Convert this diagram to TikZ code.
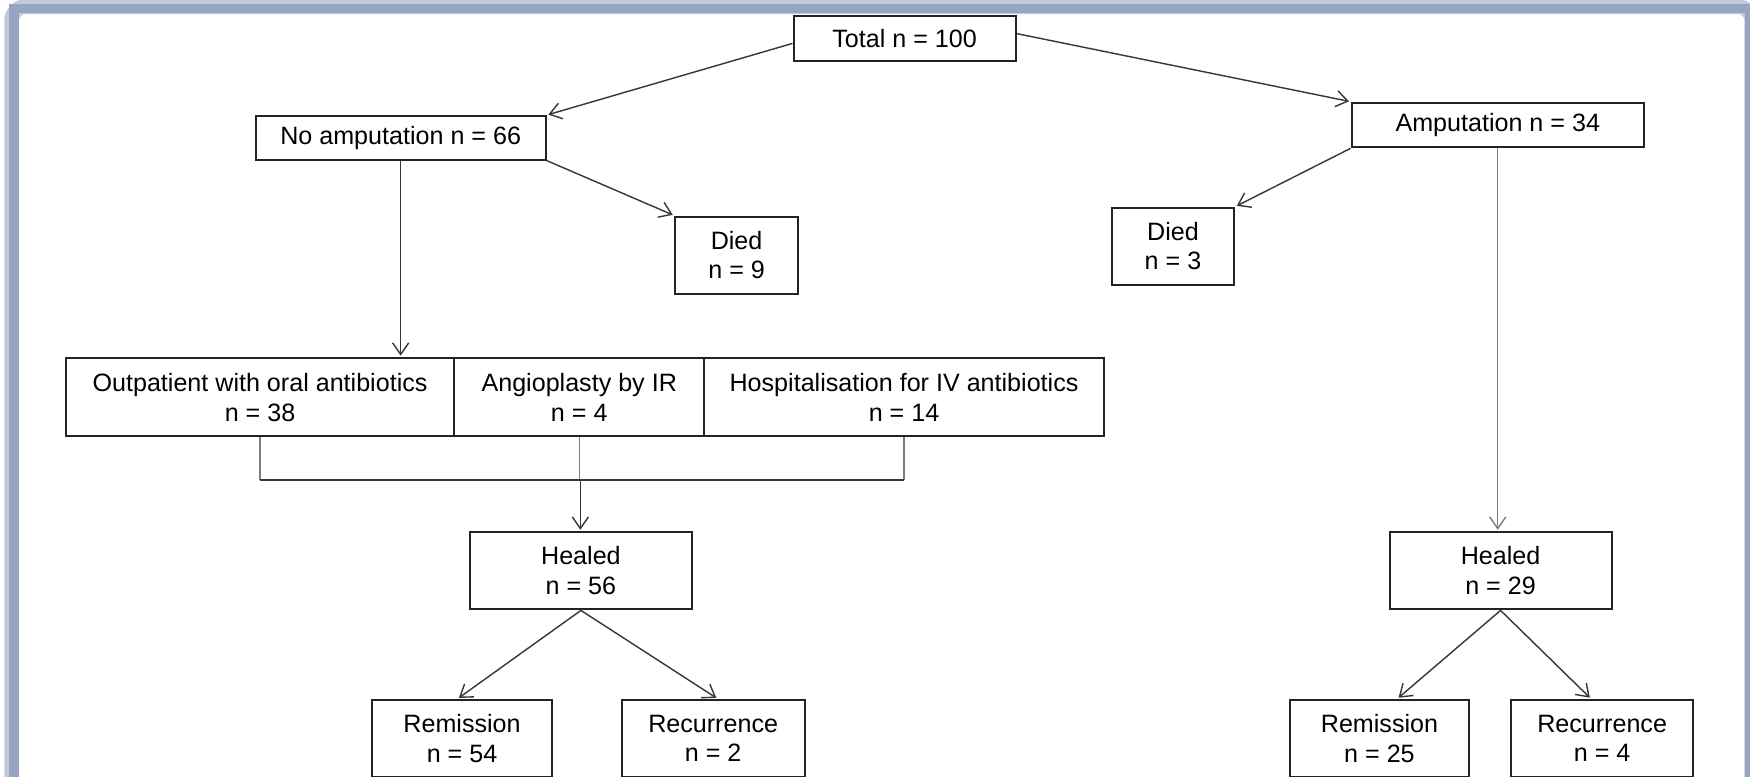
\documentclass[tikz,border=0pt]{standalone}
\usepackage{fontspec}
\setmainfont{Liberation Sans}
\usetikzlibrary{arrows.meta,calc}
\definecolor{frameC}{RGB}{152,165,194}
\definecolor{boxC}{RGB}{35,35,35}
\definecolor{linkC}{RGB}{55,55,55}
\definecolor{stemC}{RGB}{125,125,125}

\begin{document}
\begin{tikzpicture}[x=0.25mm,y=-0.25mm,font=\fontsize{16}{19}\selectfont,
  >={Straight Barb[length=2.6mm,width=3.6mm]},
  box/.style 2 args={draw=boxC,line width=1.3pt,align=center,inner sep=0pt,
    minimum width=#1*0.25mm,minimum height=#2*0.25mm},
  link/.style={draw=linkC,line width=0.9pt,->,shorten >=1pt},
  stem/.style={draw=stemC,line width=0.9pt},
  rail/.style={draw=linkC,line width=0.9pt}]
  \clip (0,0) rectangle (1568,696);
  \fill[white] (0,0) rectangle (1568,696);
  % page frame, cut off at the bottom
  \draw[frameC!60,line width=3.3mm,rounded corners=3mm] (10.5,6) rectangle (1569.5,760);
  \draw[frameC,line width=2.2mm] (12.6,7.6) rectangle (1567.9,760);

  % boxes
  \node[box={199}{41}] (total) at (810.5,34.5) {Total n = 100};
  \node[box={260}{39}] (noamp) at (359,123.5) {No amputation n = 66};
  \node[box={262}{40}] (amp) at (1342,112) {Amputation n = 34};
  \node[box={110}{69}] (died1) at (660,228.5) {Died\\n = 9};
  \node[box={110}{69}] (died2) at (1051,220.5) {Died\\n = 3};
  \node[box={348}{70}] (outpat) at (233,356) {Outpatient with oral antibiotics\\n = 38};
  \node[box={224}{70}] (angio) at (519,356) {Angioplasty by IR\\n = 4};
  \node[box={358}{70}] (hosp) at (810,356) {Hospitalisation for IV antibiotics\\n = 14};
  \node[box={199}{69}] (heal1) at (520.5,511.5) {Healed\\n = 56};
  \node[box={162}{69}] (rem1) at (414,661.5) {Remission\\n = 54};
  \node[box={164}{69}] (rec1) at (639,661.5) {Recurrence\\n = 2};
  \node[box={199}{69}] (heal2) at (1344.5,511.5) {Healed\\n = 29};
  \node[box={160}{69}] (rem2) at (1236,661.5) {Remission\\n = 25};
  \node[box={163}{69}] (rec2) at (1435.5,661.5) {Recurrence\\n = 4};

  % connectors
  \coordinate (join) at (520,430);
  \draw[link] ([yshift=-1.1mm]total.west) -- (noamp.north east);
  \draw[link] ([yshift=1.1mm]total.east) -- (amp.north west);
  \draw[link] (noamp.south east) -- (died1.north west);
  \draw[link] (amp.south west) -- (died2.north east);
  \draw[link] (noamp.south) -- (noamp.south |- outpat.north);
  \draw[stem] (outpat.south) -- (outpat.south |- join);
  \draw[stem] (angio.south) -- (angio.south |- join);
  \draw[stem] (hosp.south) -- (hosp.south |- join);
  \draw[rail] (outpat.south |- join) -- (hosp.south |- join);
  \draw[link] (join) -- (join |- heal1.north);
  \draw[link] (heal1.south) -- ([xshift=-1mm]rem1.north);
  \draw[link] (heal1.south) -- ([xshift=1mm]rec1.north);
  \draw[link,draw=stemC] (amp.south) -- (amp.south |- heal2.north);
  \draw[link] (heal2.south) -- ([xshift=4mm]rem2.north);
  \draw[link] (heal2.south) -- ([xshift=-2.5mm]rec2.north);
\end{tikzpicture}
\end{document}
